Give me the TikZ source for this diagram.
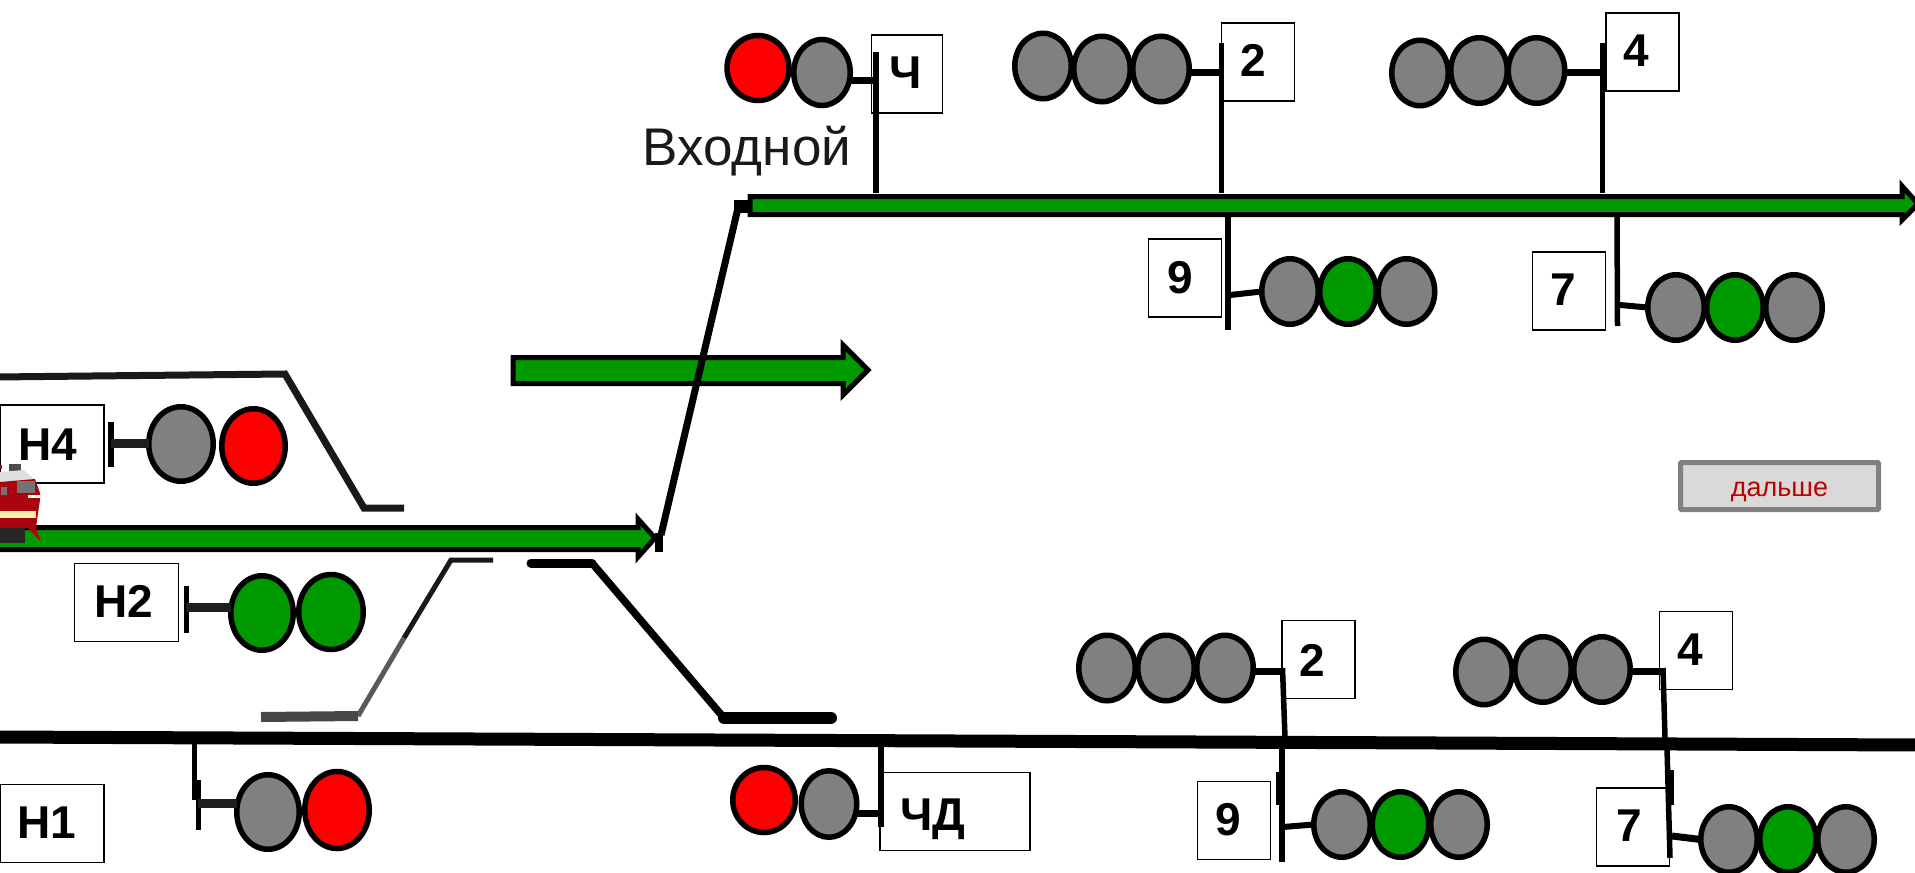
\documentclass[tikz,border=0pt]{standalone}
\usepackage{fontspec}
\setmainfont{Liberation Sans}
\usetikzlibrary{shapes.geometric}
\definecolor{sigred}{RGB}{255,0,0}
\definecolor{siggreen}{RGB}{0,153,0}
\definecolor{siggray}{RGB}{128,128,128}
\definecolor{locored}{RGB}{170,5,15}
\definecolor{lococream}{RGB}{250,240,170}
\tikzset{
  x=1pt,y=-1pt,
  lamp/.style={ellipse,draw=black,line width=5.5pt,inner sep=0pt,outer sep=0pt,minimum width=56.5pt,minimum height=65.5pt},
  lampred/.style={fill=sigred},
  lampgreen/.style={fill=siggreen},
  lampgray/.style={fill=siggray},
  tagbox/.style={rectangle,draw=black,line width=1.6pt,fill=white,inner sep=0pt,outer sep=0pt,minimum width=73pt,minimum height=78pt},
  widetag/.style={minimum width=104pt},
  tagtext/.style={font=\fontsize{46}{46}\selectfont\bfseries,inner sep=0pt,anchor=base},
  pole/.style={draw=black,line width=5.5pt},
  stem/.style={draw=black,line width=7pt},
  fatstem/.style={draw=black!88,line width=9pt},
  track/.style={draw=black,line width=7pt,line join=miter},
  blockarrow/.style={draw=black,fill=siggreen,line width=5pt,line join=miter,miter limit=10},
}
\newcommand{\tagat}[6]{% name, box cx, box cy, text x, text cy, text
  \node[tagbox] (#1) at (#2,#3) {};
  \node[tagtext] (#1t) at (#4,#5+16.5) {#6};
}
\begin{document}
\begin{tikzpicture}
\useasboundingbox (0,0) rectangle (1915,873);
\clip (0,0) rectangle (1915,873);
\fill[white] (0,0) rectangle (1915,873);

% side tracks
\coordinate (ua) at (-5,377); \coordinate (ub) at (285,374); \coordinate (uc) at (364,508); \coordinate (ud) at (404,508);
\draw[track,draw=black!90] (ua) -- (ub) -- (uc) -- (ud);
\coordinate (ga) at (493,560); \coordinate (gb) at (451,560); \coordinate (gm) at (404,638); \coordinate (gc) at (358,716); \coordinate (gd) at (261,717);
\draw[track,line width=5pt,draw=black!90] (ga) -- (gb) -- (gm);
\draw[track,line width=5pt,draw=black!65] (gm) -- (gc);
\draw[track,line width=10pt,draw=black!72] (gc) -- (gd);
\coordinate (ra) at (531,563); \coordinate (rb) at (592,563); \coordinate (rc) at (724,718); \coordinate (rd) at (831,718);
\draw[track,line width=9pt,line cap=round] (ra) -- (rb);
\draw[track,line width=7.5pt] (rb) -- (rc);
\draw[track,line width=12pt,line cap=round] (rc) -- (rd);

% main line
\coordinate (ma) at (-5,737); \coordinate (mb) at (1920,745);
\draw[draw=black,line width=13pt] (ma) -- (mb);

% boxes and labels
\node[tagbox,widetag] (tH4) at (52,444) {};
\node[tagtext] (tH4t) at (48,444+16.5) {Н4};
\node[tagbox,widetag] (tH2) at (126.5,602.5) {};
\node[tagtext] (tH2t) at (124,601+16.5) {Н2};
\node[tagbox,widetag] (tH1) at (52,823.5) {};
\node[tagtext] (tH1t) at (47,822+16.5) {Н1};
\node[tagbox,minimum width=71pt] (tCh) at (907,74) {};
\node[tagtext] (tChT) at (906,72+16.5) {Ч};
\tagat{tTopTwo}{1258}{62}{1253}{60}{2}
\tagat{tTopFour}{1642.5}{52}{1636.5}{50}{4}
\tagat{tTopNine}{1185}{278}{1180}{277}{9}
\tagat{tTopSeven}{1569}{291}{1563.5}{289}{7}
\tagat{tBotTwo}{1318.5}{659.5}{1312}{660}{2}
\tagat{tBotFour}{1696}{650.5}{1690}{649}{4}
\tagat{tBotNine}{1234}{820.5}{1228}{819}{9}
\tagat{tBotSeven}{1633}{827}{1629}{825}{7}
\node[tagbox,minimum width=150pt] (tChD) at (955,811.5) {};
\node[tagtext] (tChDT) at (933,814+16.5) {ЧД};

% caption
\node[inner sep=0pt,anchor=base,font=\fontsize{53}{53}\selectfont,text=black!90] (entry) at (747,165) {Входной};

% block arrows
\draw[blockarrow] (513,357.5) -- (843,357.5) -- (843,345) -- (868,370) -- (843,395) -- (843,383.5) -- (513,383.5) -- cycle;
\draw[blockarrow] (-8,527.5) -- (638,527.5) -- (638,519) -- (655,538) -- (638,557) -- (638,549.5) -- (-8,549.5) -- cycle;
\draw[blockarrow] (750,196.5) -- (1902,196.5) -- (1902,186) -- (1918,204) -- (1902,220) -- (1902,214.5) -- (750,214.5) -- cycle;
% junction
\coordinate (ja) at (661,535); \coordinate (jb) at (738,208);
\draw[draw=black,line width=7pt] (ja) -- (jb);
\fill[black] (655,533) rectangle (663,552);
\fill[black] (733.5,200) rectangle (750,213);

% locomotive
\fill[black!70] (9,464) rectangle (21,471);
\fill[locored] (0,465) rectangle (2,469);
\fill[gray!25] (0,472) -- (24,470) -- (35,480) -- (0,483) -- cycle;
\fill[locored] (0,482) -- (35,479) -- (40,493) -- (40,500) -- (37,520) -- (36,528) -- (0,528) -- cycle;
\fill[gray!90!black] (17,481) rectangle (35,493);
\fill[gray!90!black] (1,487) rectangle (7,495);
\fill[white!90!yellow] (28,495) rectangle (40,498);
\fill[lococream] (0,511) rectangle (36,518);
\fill[locored] (28,528) -- (36,528) -- (41,542) -- cycle;
\fill[black!85] (0,528) rectangle (25,543);

% signal Ч
\coordinate (pChT) at (876,52); \coordinate (pChB) at (876,193); \coordinate (pChS) at (876,80);
\draw[pole] (pChT) -- (pChB);
\node[lamp,lampred,minimum width=62pt,minimum height=65pt] (chR) at (758,68) {};
\node[lamp,lampgray,minimum height=66pt] (chG) at (822,72.5) {};
\draw[stem] (chG.east |- pChS) -- (pChS);

% upper 2
\coordinate (pTwoT) at (1221.5,43); \coordinate (pTwoB) at (1221.5,193); \coordinate (pTwoS) at (1221.5,72);
\draw[pole] (pTwoT) -- (pTwoB);
\node[lamp,lampgray] (a1) at (1043,66) {};
\node[lamp,lampgray] (a2) at (1102,69) {};
\node[lamp,lampgray] (a3) at (1161,69) {};
\draw[stem] (a3.east |- pTwoS) -- (pTwoS);

% upper 4
\coordinate (pFourT) at (1602.5,43); \coordinate (pFourB) at (1602.5,193); \coordinate (pFourS) at (1602.5,72);
\draw[pole] (pFourT) -- (pFourB);
\node[lamp,lampgray] (b1) at (1420,73) {};
\node[lamp,lampgray] (b2) at (1479,70.5) {};
\node[lamp,lampgray] (b3) at (1536.5,70.5) {};
\draw[stem] (b3.east |- pFourS) -- (pFourS);

% upper 9
\coordinate (pNineT) at (1228,216); \coordinate (pNineB) at (1228,330); \coordinate (pNineS) at (1230,295);
\draw[pole] (pNineT) -- (pNineB);
\node[lamp,lampgray] (c1) at (1290,291.5) {};
\node[lamp,lampgreen] (c2) at (1348,291.5) {};
\node[lamp,lampgray] (c3) at (1406.5,291.5) {};
\draw[stem,line width=6pt] (pNineS) -- (c1.west);

% upper 7
\coordinate (pSevenT) at (1617,216); \coordinate (pSevenB) at (1617.5,326); \coordinate (pSevenS) at (1620,305);
\draw[pole] (pSevenT) -- (pSevenB);
\node[lamp,lampgray] (d1) at (1676,307.5) {};
\node[lamp,lampgreen] (d2) at (1735,307.5) {};
\node[lamp,lampgray] (d3) at (1794,307.5) {};
\draw[stem,line width=6pt] (pSevenS) -- (d1.west);

% Н4
\coordinate (pHfT) at (111,422); \coordinate (pHfB) at (111,467); \coordinate (pHfS) at (111,443);
\draw[pole] (pHfT) -- (pHfB);
\node[lamp,lampgray,minimum width=64.5pt,minimum height=74.5pt] (e1) at (181,444) {};
\node[lamp,lampred,minimum width=63.5pt,minimum height=74.5pt] (e2) at (253.5,446) {};
\draw[fatstem] (pHfS) -- (e1.west |- pHfS);

% Н2
\coordinate (pHtT) at (186,586); \coordinate (pHtB) at (186,633); \coordinate (pHtS) at (186,607);
\draw[pole,line width=5pt] (pHtT) -- (pHtB);
\node[lamp,lampgreen,minimum width=62.5pt,minimum height=74.5pt] (f1) at (262,613) {};
\node[lamp,lampgreen,minimum width=64.5pt,minimum height=75pt] (f2) at (331,612) {};
\draw[fatstem] (pHtS) -- (f1.west |- pHtS);

% Н1
\coordinate (pHoT) at (194.5,744); \coordinate (pHoB) at (194.5,800); \coordinate (pHoC) at (198.5,780); \coordinate (pHoD) at (198.5,830); \coordinate (pHoS) at (198,803);
\draw[pole,line width=5pt] (pHoT) -- (pHoB);
\draw[pole,line width=4.5pt] (pHoC) -- (pHoD);
\node[lamp,lampgray,minimum width=62.5pt,minimum height=74.5pt] (g1) at (268,812) {};
\node[lamp,lampred,minimum width=64.5pt,minimum height=77pt] (g2) at (337,810) {};
\draw[fatstem] (pHoS) -- (g1.west |- pHoS);

% ЧД
\coordinate (pCdT) at (881,745); \coordinate (pCdB) at (881,827); \coordinate (pCdS) at (881,813);
\draw[pole] (pCdT) -- (pCdB);
\node[lamp,lampred,minimum width=62.5pt,minimum height=65pt] (h1) at (764,800) {};
\node[lamp,lampgray,minimum width=55.5pt,minimum height=66.5pt] (h2) at (829,804) {};
\draw[stem] (h2.east |- pCdS) -- (pCdS);

% lower 2
\coordinate (pLtT) at (1282.5,668); \coordinate (pLtB) at (1285,738); \coordinate (pLtS) at (1282.5,671);
\draw[pole] (pLtT) -- (pLtB);
\node[lamp,lampgray] (k1) at (1107,668) {};
\node[lamp,lampgray] (k2) at (1166,668) {};
\node[lamp,lampgray] (k3) at (1225,668) {};
\draw[stem] (k3.east |- pLtS) -- (pLtS);

% lower 4
\coordinate (pLfT) at (1663,668); \coordinate (pLfB) at (1665,738); \coordinate (pLfS) at (1663,671);
\draw[pole] (pLfT) -- (pLfB);
\node[lamp,lampgray] (m1) at (1484,672) {};
\node[lamp,lampgray] (m2) at (1543,669.5) {};
\node[lamp,lampgray] (m3) at (1602,669.5) {};
\draw[stem] (m3.east |- pLfS) -- (pLfS);

% lower 9
\coordinate (pLnT) at (1282,748); \coordinate (pLnB) at (1282,862); \coordinate (pLnS) at (1283,827);
\coordinate (pLnU) at (1279,772); \coordinate (pLnV) at (1279,805);
\draw[pole] (pLnT) -- (pLnB);
\draw[pole,line width=7pt] (pLnU) -- (pLnV);
\node[lamp,lampgray] (n1) at (1342,824.5) {};
\node[lamp,lampgreen] (n2) at (1400.5,824.5) {};
\node[lamp,lampgray] (n3) at (1459,824.5) {};
\draw[stem,line width=6pt] (pLnS) -- (n1.west);

% lower 7
\coordinate (pLsT) at (1667,748); \coordinate (pLsB) at (1670,858); \coordinate (pLsS) at (1672,836);
\coordinate (pLsU) at (1670,770); \coordinate (pLsV) at (1670,805);
\draw[pole] (pLsT) -- (pLsB);
\draw[pole,line width=7pt] (pLsU) -- (pLsV);
\node[lamp,lampgray] (q1) at (1729,839.5) {};
\node[lamp,lampgreen] (q2) at (1788,839.5) {};
\node[lamp,lampgray] (q3) at (1846,839.5) {};
\draw[stem] (pLsS) -- (q1.west);

% button
\node[rectangle,draw=siggray,line width=5pt,fill=black!15,rounded corners=1pt,minimum width=198pt,minimum height=47pt,inner sep=0pt,outer sep=0pt,text=red!75!black,font=\fontsize{27}{27}\selectfont] (next) at (1779.5,486) {\raisebox{-10pt}[0pt][0pt]{дальше}};
\end{tikzpicture}
\end{document}
